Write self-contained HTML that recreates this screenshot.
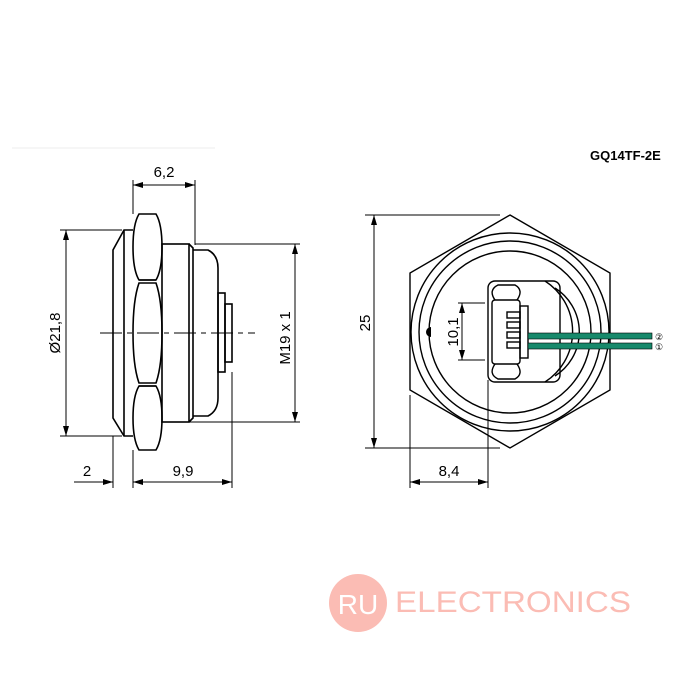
<!DOCTYPE html>
<html><head><style>body{margin:0;background:#fff}svg{display:block}</style></head><body>
<svg width="700" height="700" viewBox="0 0 700 700" xmlns="http://www.w3.org/2000/svg" font-family="Liberation Sans, sans-serif">
<defs>
<marker id="a" markerWidth="10" markerHeight="6" refX="10" refY="3" orient="auto-start-reverse" markerUnits="userSpaceOnUse"><path d="M0,0 L10,3 L0,6 z" fill="#000"/></marker>
</defs>
<rect width="700" height="700" fill="#fff"/>
<line x1="12" y1="148" x2="215" y2="148" stroke="#eee" stroke-width="1"/>
<text x="590" y="160" font-size="13" font-weight="bold">GQ14TF-2E</text>

<g fill="none" stroke="#000" stroke-width="1.6">
<path d="M133,230 L124,230 L113,250 L113,418 L124,436 L133,436"/>
<line x1="124" y1="230" x2="124" y2="436"/>
<path d="M139,214 L156,214 Q162,224 162,247 Q162,270 156,280 L139,280 Q133,270 133,247 Q133,224 139,214 Z"/>
<path d="M139,283 L156,283 Q162,300 162,333 Q162,366 156,383 L139,383 Q133,366 133,333 Q133,300 139,283 Z"/>
<path d="M139,386 L156,386 Q162,396 162,418 Q162,440 156,450 L139,450 Q133,440 133,418 Q133,396 139,386 Z"/>
<line x1="139" y1="280" x2="156" y2="280"/><line x1="139" y1="386" x2="156" y2="386"/>
<rect x="162" y="244" width="27" height="178"/>
<path d="M189,244 L193,248 L193,418 L189,422"/>
<path d="M193,250 L208,250 Q218,255 218,268 L218,398 Q218,411 208,416 L193,416"/>
<rect x="218" y="293" width="7" height="79"/>
<rect x="225" y="304" width="7" height="58"/>
</g>
<line x1="100" y1="333" x2="255" y2="333" stroke="#000" stroke-width="1" stroke-dasharray="22,5,5,5"/>

<g stroke="#000" stroke-width="1" fill="none">
<line x1="133" y1="180" x2="133" y2="214"/><line x1="195" y1="180" x2="195" y2="245"/>
<line x1="133" y1="185" x2="195" y2="185" marker-start="url(#a)" marker-end="url(#a)"/>
<line x1="60" y1="230" x2="122" y2="230"/><line x1="60" y1="436" x2="122" y2="436"/>
<line x1="66" y1="230" x2="66" y2="436" marker-start="url(#a)" marker-end="url(#a)"/>
<line x1="195" y1="244" x2="300" y2="244"/><line x1="190" y1="422" x2="300" y2="422"/>
<line x1="295" y1="244" x2="295" y2="422" marker-start="url(#a)" marker-end="url(#a)"/>
<line x1="113" y1="436" x2="113" y2="488"/><line x1="133" y1="450" x2="133" y2="488"/><line x1="232" y1="372" x2="232" y2="488"/>
<line x1="74" y1="482" x2="113" y2="482" marker-end="url(#a)"/>
<line x1="133" y1="482" x2="232" y2="482" marker-start="url(#a)" marker-end="url(#a)"/>
</g>
<g font-size="15">
<text x="164" y="177" text-anchor="middle">6,2</text>
<text x="87" y="476" text-anchor="middle">2</text>
<text x="183" y="476" text-anchor="middle">9,9</text>
<text transform="translate(60,333) rotate(-90)" text-anchor="middle">Ø21,8</text>
<text transform="translate(290,338) rotate(-90)" text-anchor="middle">M19 x 1</text>
<text transform="translate(370,323) rotate(-90)" text-anchor="middle">25</text>
<text transform="translate(458,332) rotate(-90)" text-anchor="middle">10,1</text>
<text x="449" y="476" text-anchor="middle">8,4</text>
</g>

<g fill="none" stroke="#000" stroke-width="1.4">
<path d="M510,215 L610,273 L610,390 L510,448 L410,390 L410,273 Z"/>
<circle cx="510" cy="332" r="99"/>
<circle cx="510" cy="332" r="91"/>
<circle cx="510" cy="332" r="81"/>
<path d="M545,281 A60,60 0 0 1 545,382" />
<path d="M555,288 A52,52 0 0 1 555,376" />
<rect x="488" y="281" width="72" height="101" rx="7"/>
<path d="M495,300 Q488,290 498,285 L515,285 Q524,290 517,300"/>
<path d="M495,364 Q488,374 498,379 L515,379 Q524,374 517,364"/>
<rect x="492" y="300" width="28" height="64" rx="3"/>
<rect x="520" y="306" width="8" height="52"/>
<rect x="507" y="312" width="13" height="6"/><rect x="507" y="322" width="13" height="6"/><rect x="507" y="332" width="13" height="6"/><rect x="507" y="342" width="13" height="6"/>
</g>
<rect x="528" y="333" width="124" height="6" fill="#17896b" stroke="#000" stroke-width="0.6"/>
<rect x="528" y="343" width="124" height="6" fill="#17896b" stroke="#000" stroke-width="0.6"/>
<path d="M431,327 A5,5 0 0 0 431,337 Z" fill="#000"/>
<text x="655" y="340" font-size="9">②</text>
<text x="655" y="350" font-size="9">①</text>
<g stroke="#000" stroke-width="1" fill="none">
<line x1="365" y1="215" x2="500" y2="215"/><line x1="365" y1="448" x2="500" y2="448"/>
<line x1="374" y1="215" x2="374" y2="448" marker-start="url(#a)" marker-end="url(#a)"/>
<line x1="458" y1="303" x2="485" y2="303"/><line x1="458" y1="360" x2="485" y2="360"/>
<line x1="462" y1="303" x2="462" y2="360" marker-start="url(#a)" marker-end="url(#a)"/>
<line x1="410" y1="395" x2="410" y2="488"/><line x1="488" y1="380" x2="488" y2="488"/>
<line x1="410" y1="482" x2="488" y2="482" marker-start="url(#a)" marker-end="url(#a)"/>
</g>

<circle cx="358" cy="603" r="29" fill="#fbbcb4"/>
<text x="358" y="614" font-size="28" fill="#fff" text-anchor="middle">RU</text>
<text x="395" y="612" font-size="30" fill="#fbbcb4" textLength="236" lengthAdjust="spacingAndGlyphs">ELECTRONICS</text>
</svg>
</body></html>
